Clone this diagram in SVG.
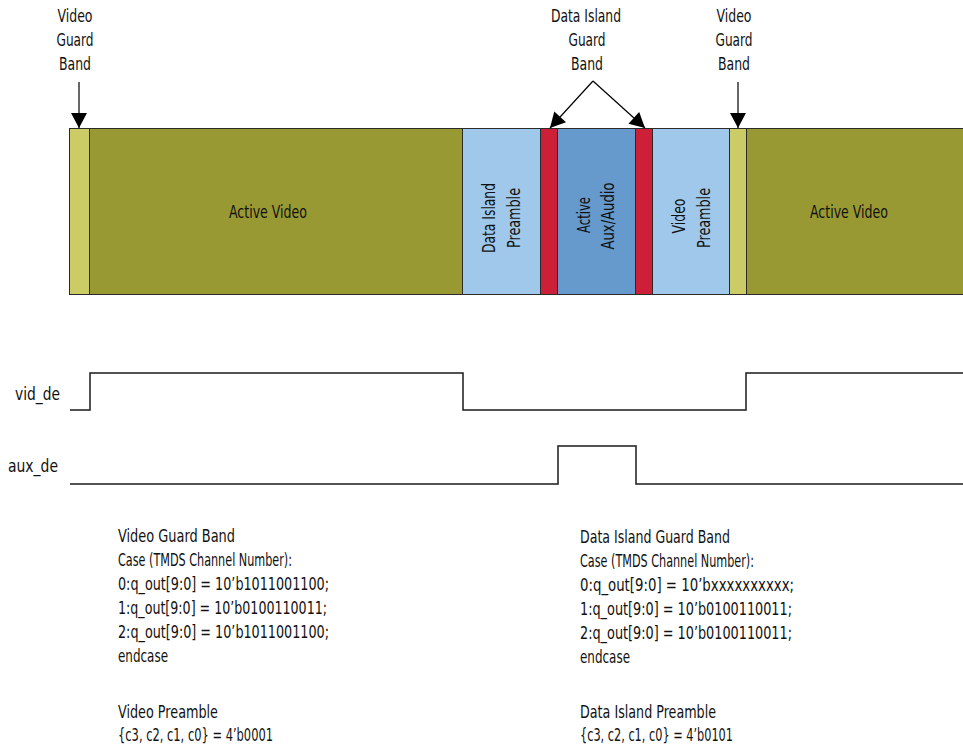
<svg xmlns="http://www.w3.org/2000/svg" width="963" height="748" viewBox="0 0 963 748">
<defs>
<style>
text{font-family:"DejaVu Sans Condensed","Liberation Sans",sans-serif;fill:#111;font-size:18px}
.c{text-anchor:middle}
.seg{stroke:#2a2a2a;stroke-width:1}
.olive{fill:#999933}
.yel{fill:#CCCC66}
.lb{fill:#9FC8EA}
.mb{fill:#6699CC}
.red{fill:#CE1F39}
.wave{fill:none;stroke:#1a1a1a;stroke-width:1.5}
.arr{stroke:#000;stroke-width:1.2;fill:none}
.code{font-size:17px}
</style>
<marker id="ah" markerWidth="17" markerHeight="16" refX="16" refY="8.5" orient="auto" markerUnits="userSpaceOnUse" viewBox="0 0 17 17">
<path d="M0,0 L16,8.5 L0,17 Z" fill="#000"/>
</marker>
</defs>

<g id="bar">
<g id="vgb1"><rect class="seg yel" x="69.5" y="128.5" width="20" height="166"/></g>
<g id="av1"><rect class="seg olive" x="89.5" y="128.5" width="373" height="166"/><text class="c" x="268" y="218" textLength="78" lengthAdjust="spacingAndGlyphs">Active Video</text></g>
<g id="dip"><rect class="seg lb" x="462.5" y="128.5" width="78" height="166"/>
<text class="c" transform="translate(495,218) rotate(-90)" textLength="70" lengthAdjust="spacingAndGlyphs">Data Island</text>
<text class="c" transform="translate(520,218) rotate(-90)" textLength="60" lengthAdjust="spacingAndGlyphs">Preamble</text></g>
<g id="digb1"><rect class="seg red" x="540.5" y="128.5" width="17" height="166"/></g>
<g id="aux"><rect class="seg mb" x="557.5" y="128.5" width="78" height="166"/>
<text class="c" transform="translate(590,215) rotate(-90)" textLength="36" lengthAdjust="spacingAndGlyphs">Active</text>
<text class="c" transform="translate(614,216) rotate(-90)" textLength="67" lengthAdjust="spacingAndGlyphs">Aux/Audio</text></g>
<g id="digb2"><rect class="seg red" x="635.5" y="128.5" width="17" height="166"/></g>
<g id="vp"><rect class="seg lb" x="652.5" y="128.5" width="77" height="166"/>
<text class="c" transform="translate(685,216) rotate(-90)" textLength="35" lengthAdjust="spacingAndGlyphs">Video</text>
<text class="c" transform="translate(710,218) rotate(-90)" textLength="60" lengthAdjust="spacingAndGlyphs">Preamble</text></g>
<g id="vgb2"><rect class="seg yel" x="729.5" y="128.5" width="17" height="166"/></g>
<g id="av2"><rect class="seg olive" x="746.5" y="128.5" width="218" height="166"/><text class="c" x="849" y="218" textLength="78" lengthAdjust="spacingAndGlyphs">Active Video</text></g>
</g>

<g id="labels">
<g id="lbl-vgb1"><text class="c" x="75" y="22" textLength="35" lengthAdjust="spacingAndGlyphs">Video</text><text class="c" x="75" y="46" textLength="37" lengthAdjust="spacingAndGlyphs">Guard</text><text class="c" x="75" y="70" textLength="32" lengthAdjust="spacingAndGlyphs">Band</text></g>
<g id="lbl-digb"><text class="c" x="586" y="22" textLength="70" lengthAdjust="spacingAndGlyphs">Data Island</text><text class="c" x="587" y="46" textLength="37" lengthAdjust="spacingAndGlyphs">Guard</text><text class="c" x="587" y="70" textLength="32" lengthAdjust="spacingAndGlyphs">Band</text></g>
<g id="lbl-vgb2"><text class="c" x="734" y="22" textLength="35" lengthAdjust="spacingAndGlyphs">Video</text><text class="c" x="734" y="46" textLength="37" lengthAdjust="spacingAndGlyphs">Guard</text><text class="c" x="734" y="70" textLength="32" lengthAdjust="spacingAndGlyphs">Band</text></g>
</g>

<g id="connectors">
<path class="arr" d="M79,82 L79,128" marker-end="url(#ah)"/>
<path class="arr" d="M593,81 L550,128" marker-end="url(#ah)"/>
<path class="arr" d="M593,81 L645,128" marker-end="url(#ah)"/>
<path class="arr" d="M738,82 L738,128" marker-end="url(#ah)"/>
</g>

<g id="waves">
<text x="60" y="400" text-anchor="end" textLength="45" lengthAdjust="spacingAndGlyphs">vid_de</text>
<path class="wave" d="M70,410 H90 V373 H463 V410 H746 V373 H963"/>
<text x="58" y="472" text-anchor="end" textLength="50" lengthAdjust="spacingAndGlyphs">aux_de</text>
<path class="wave" d="M70,484 H558 V446 H636 V484 H963"/>
</g>

<g id="notes-video">
<text class="code" x="118" y="542" textLength="117" lengthAdjust="spacingAndGlyphs">Video Guard Band</text>
<text class="code" x="118" y="566" textLength="174" lengthAdjust="spacingAndGlyphs">Case (TMDS Channel Number):</text>
<text class="code" x="118" y="590" textLength="211" lengthAdjust="spacingAndGlyphs">0:q_out[9:0] = 10’b1011001100;</text>
<text class="code" x="118" y="614" textLength="209" lengthAdjust="spacingAndGlyphs">1:q_out[9:0] = 10’b0100110011;</text>
<text class="code" x="118" y="638" textLength="211" lengthAdjust="spacingAndGlyphs">2:q_out[9:0] = 10’b1011001100;</text>
<text class="code" x="118" y="662" textLength="50" lengthAdjust="spacingAndGlyphs">endcase</text>
<text class="code" x="118" y="718" textLength="100" lengthAdjust="spacingAndGlyphs">Video Preamble</text>
<text class="code" x="118" y="741" textLength="155" lengthAdjust="spacingAndGlyphs">{c3, c2, c1, c0} = 4’b0001</text>
</g>

<g id="notes-data">
<text class="code" x="580" y="543" textLength="150" lengthAdjust="spacingAndGlyphs">Data Island Guard Band</text>
<text class="code" x="580" y="567" textLength="174" lengthAdjust="spacingAndGlyphs">Case (TMDS Channel Number):</text>
<text class="code" x="580" y="591" textLength="214" lengthAdjust="spacingAndGlyphs">0:q_out[9:0] = 10’bxxxxxxxxxx;</text>
<text class="code" x="580" y="615" textLength="212" lengthAdjust="spacingAndGlyphs">1:q_out[9:0] = 10’b0100110011;</text>
<text class="code" x="580" y="639" textLength="212" lengthAdjust="spacingAndGlyphs">2:q_out[9:0] = 10’b0100110011;</text>
<text class="code" x="580" y="663" textLength="50" lengthAdjust="spacingAndGlyphs">endcase</text>
<text class="code" x="580" y="718" textLength="136" lengthAdjust="spacingAndGlyphs">Data Island Preamble</text>
<text class="code" x="580" y="741" textLength="153" lengthAdjust="spacingAndGlyphs">{c3, c2, c1, c0} = 4’b0101</text>
</g>
</svg>
